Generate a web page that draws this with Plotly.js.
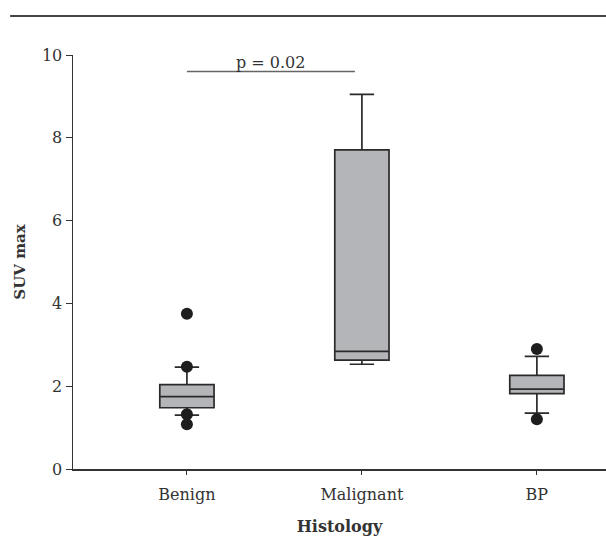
<!DOCTYPE html>
<html>
<head>
<meta charset="utf-8">
<script src="https://cdn.plot.ly/plotly-3.0.1.min.js"></script>
<style>html,body{margin:0;padding:0;background:#fff;}#chart{width:606px;height:536px;}</style>
</head>
<body>
<div id="chart"></div>
<script>
const categories = ["Benign", "Malignant", "BP"];
const q1Values = [1.48, 2.63, 1.82];
const medianValues = [1.75, 2.84, 1.93];
const q3Values = [2.04, 7.71, 2.26];
const lowerWhisker = [1.30, 2.53, 1.35];
const upperWhisker = [2.46, 9.05, 2.72];
const outlierCategories = ["Benign", "Benign", "Benign", "Benign", "BP", "BP"];
const outlierValues = [3.75, 2.47, 1.32, 1.08, 2.90, 1.20];
const pLabel = "p = 0.02";
const pFrom = 0;     // Benign
const pTo = 0.96;    // just short of Malignant
const pLevel = 9.6;

const serif = "DejaVu Serif, serif";
const ink = "#333333";

const traces = [
  {
    type: "box",
    x: categories,
    q1: q1Values,
    median: medianValues,
    q3: q3Values,
    lowerfence: lowerWhisker,
    upperfence: upperWhisker,
    boxpoints: false,
    width: 0.31,
    whiskerwidth: 0.45,
    fillcolor: "#b4b5b9",
    line: {color: "#2a2a2a", width: 1.7},
    hoverinfo: "skip",
    showlegend: false
  },
  {
    type: "scatter",
    mode: "markers",
    x: outlierCategories,
    y: outlierValues,
    marker: {color: "#1e1e1e", size: 12},
    hoverinfo: "skip",
    showlegend: false
  }
];

const layout = {
  width: 606,
  height: 536,
  margin: {l: 73, r: 0, t: 55, b: 67},
  paper_bgcolor: "#ffffff",
  plot_bgcolor: "#ffffff",
  font: {family: serif, size: 16, color: ink},
  xaxis: {
    type: "category",
    categoryorder: "array",
    categoryarray: categories,
    range: [-0.651, 2.395],
    showline: true,
    linecolor: ink,
    linewidth: 1.5,
    ticks: "outside",
    ticklen: 4,
    tickcolor: ink,
    ticklabelstandoff: 6,
    showgrid: false,
    zeroline: false,
    tickfont: {family: serif, size: 16, color: ink},
    title: {text: "<b>Histology</b>", font: {family: serif, size: 16, color: ink}, standoff: 20}
  },
  yaxis: {
    range: [0, 10],
    tickvals: [0, 2, 4, 6, 8, 10],
    showline: true,
    linecolor: ink,
    linewidth: 1.5,
    ticks: "outside",
    ticklen: 6,
    tickcolor: ink,
    showgrid: false,
    zeroline: false,
    tickfont: {family: serif, size: 16, color: ink},
    title: {text: "<b>SUV max</b>", font: {family: serif, size: 15, color: ink}, standoff: 12}
  },
  shapes: [
    {type: "line", xref: "x", yref: "y", x0: pFrom, x1: pTo, y0: pLevel, y1: pLevel,
     line: {color: "#666666", width: 1.5}},
    {type: "line", xref: "paper", yref: "paper", x0: -0.118, x1: 1.0, y0: 1.094, y1: 1.094,
     line: {color: "#444444", width: 2}}
  ],
  annotations: [
    {xref: "x", yref: "y", x: (pFrom + pTo) / 2, y: pLevel, text: pLabel, showarrow: false,
     yanchor: "bottom", yshift: -2, font: {family: serif, size: 16, color: ink}}
  ]
};

Plotly.newPlot("chart", traces, layout, {displayModeBar: false, staticPlot: true});
</script>
</body>
</html>
